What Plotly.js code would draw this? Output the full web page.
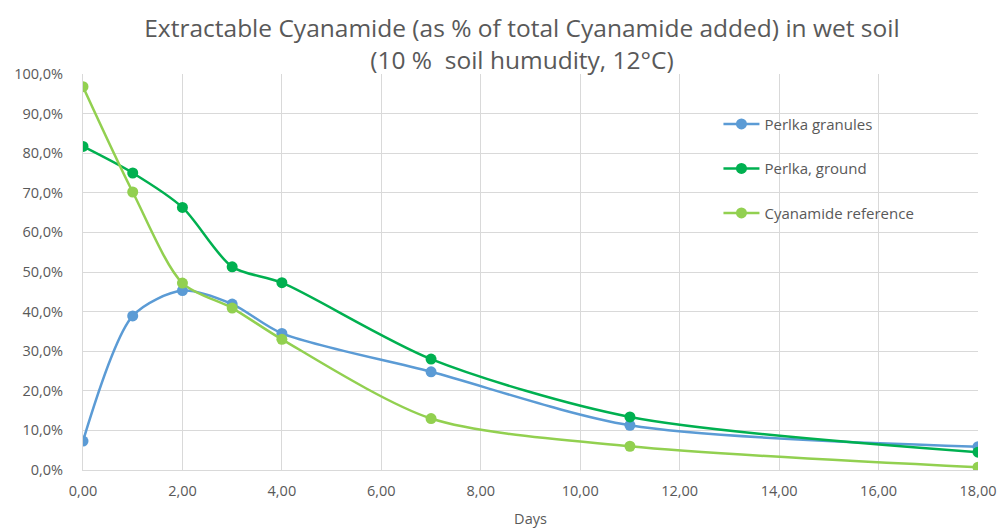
<!DOCTYPE html>
<html>
<head>
<meta charset="utf-8">
<script src="https://cdn.plot.ly/plotly-3.0.1.min.js"></script>
<style>html,body{margin:0;padding:0;background:#fff;}#chart{width:998px;height:530px;}</style>
</head>
<body>
<div id="chart"></div>
<script>
const days = [0, 1, 2, 3, 4, 7, 11, 18];
const perlkaGranules = [7.3, 38.9, 45.3, 41.9, 34.5, 24.8, 11.3, 5.9];
const perlkaGround = [81.7, 75.0, 66.3, 51.3, 47.3, 28.0, 13.4, 4.5];
const cyanamideRef = [96.8, 70.2, 47.2, 40.9, 33.0, 13.0, 6.0, 0.7];
const seriesNames = ["Perlka granules", "Perlka, ground", "Cyanamide reference"];
const seriesColors = ["#5B9BD5", "#00B050", "#92D050"];
const seriesValues = [perlkaGranules, perlkaGround, cyanamideRef];

const traces = seriesValues.map((vals, i) => ({
  x: days, y: vals, name: seriesNames[i], type: "scatter", mode: "lines+markers",
  legendgroup: "g" + i,
  line: {color: seriesColors[i], width: 2.5, shape: "spline", smoothing: 0.8},
  marker: {color: seriesColors[i], size: 11}
}));

const layout = {
  width: 998, height: 530,
  margin: {l: 83, r: 20, t: 74, b: 60},
  paper_bgcolor: "#fff", plot_bgcolor: "#fff",
  separators: ", ",
  font: {family: "Open Sans, Liberation Sans, sans-serif", color: "#595959", size: 14},
  title: {text: "Extractable Cyanamide (as % of total Cyanamide added) in wet soil<br>(10 %  soil humudity, 12°C)",
    font: {size: 24.5, color: "#595959"}, x: 0.523, xanchor: "center", yref: "container", y: 0.93, yanchor: "middle"},
  xaxis: {range: [0, 18], dtick: 2, tick0: 0, tickformat: ".2f", showgrid: true, gridcolor: "#d9d9d9", gridwidth: 1,
    showline: true, linecolor: "#d9d9d9", linewidth: 1, zeroline: false, ticks: "", ticklabelstandoff: 8,
    tickfont: {size: 14.5, color: "#595959"},
    title: {text: "Days", font: {size: 14.5, color: "#595959"}, standoff: 14}},
  yaxis: {range: [0, 100], dtick: 10, tick0: 0, tickformat: ".1f", ticksuffix: "%", showgrid: true, gridcolor: "#d9d9d9", gridwidth: 1,
    showline: true, linecolor: "#d9d9d9", linewidth: 1, zeroline: false, ticks: "", ticklabelstandoff: 16,
    tickfont: {size: 14.5, color: "#595959"}},
  showlegend: true,
  legend: {x: 0.71, y: 0.915, xanchor: "left", yanchor: "top", bgcolor: "rgba(0,0,0,0)",
    font: {size: 15, color: "#595959"}, traceorder: "grouped", tracegroupgap: 22, itemwidth: 36}
};
Plotly.newPlot("chart", traces, layout, {displayModeBar: false, staticPlot: true});
</script>
</body>
</html>
